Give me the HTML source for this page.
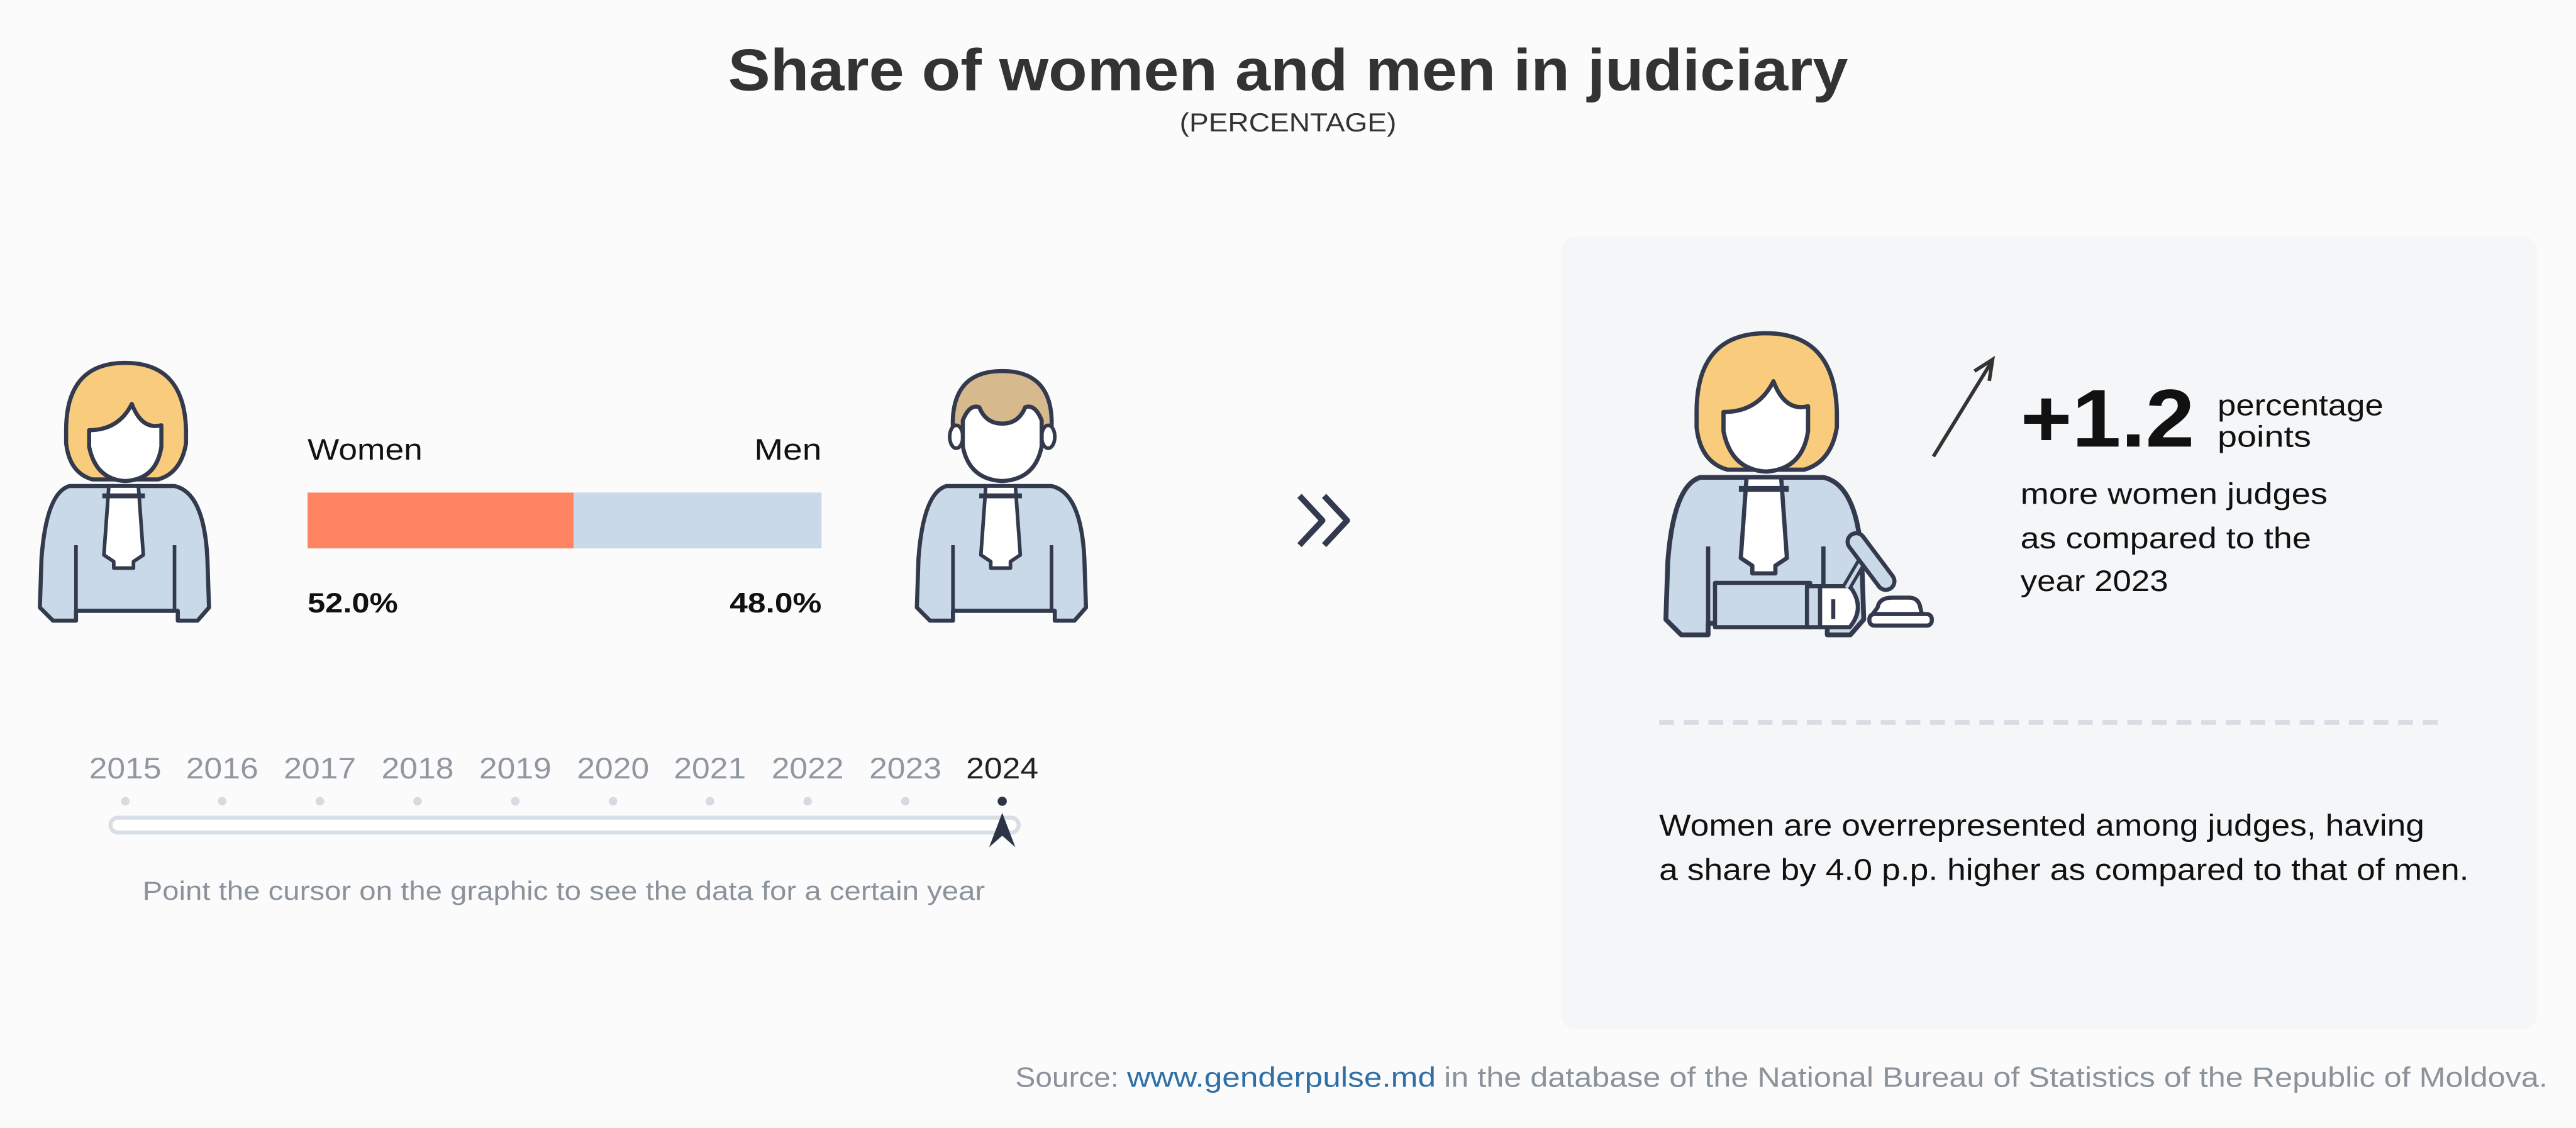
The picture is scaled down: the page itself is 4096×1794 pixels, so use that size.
<!DOCTYPE html>
<html><head><meta charset="utf-8"><style>
html,body{margin:0;padding:0;background:#fbfbfb;}
svg{display:block;}
text{font-family:"Liberation Sans",sans-serif;}
</style></head><body>
<svg width="4096" height="1794" viewBox="0 0 1568 687" xmlns="http://www.w3.org/2000/svg">
<rect width="1568" height="687" fill="#fbfbfb"/>
<text x="784" y="55" text-anchor="middle" font-size="36" font-weight="bold" fill="#333" textLength="682" lengthAdjust="spacingAndGlyphs">Share of women and men in judiciary</text>
<text x="784" y="80" text-anchor="middle" font-size="16" fill="#333" textLength="132" lengthAdjust="spacingAndGlyphs">(PERCENTAGE)</text>

<rect x="950" y="144" width="595" height="483" rx="10" fill="#f4f6f8"/>

<defs>
<g id="robe">
<path d="M42 296 L106 296 Q124 300 126 340 L127 370 L120 378 L108 378 L108 372 L46 372 L46 378 L32 378 L24 370 L25 340 Q28 300 42 296 Z" fill="#c9d9e7" stroke="#333a4d" stroke-width="2.5" stroke-linejoin="round"/>
<path d="M46 332 L46 372 M106 332 L106 372" stroke="#333a4d" stroke-width="2.2"/>
<path d="M66 296 L84 296 L87 338 L81 342 L81 346 L69 346 L69 342 L63 338 Z" fill="#fff" stroke="#333a4d" stroke-width="2.2" stroke-linejoin="round"/>
<path d="M62 302 L88 302" stroke="#333a4d" stroke-width="3"/>
</g>
</defs>

<!-- left woman -->
<g>
<path d="M40 262 Q40 221 76 221 Q112 221 113 262 L113 270 Q110 288 96 292 L56 292 Q42 288 40 270 Z" fill="#f9cb7d" stroke="#333a4d" stroke-width="2.5"/>
<path d="M54 262 L54 272 Q58 292 76 293 Q95 292 98 272 L98 259 Q86 262 80 246 Q72 262 54 262 Z" fill="#fff" stroke="#333a4d" stroke-width="2.5" stroke-linejoin="round"/>
<use href="#robe"/>
</g>

<!-- man -->
<g transform="translate(534,0)">
<path d="M46 262 Q44 226 76 226 Q108 226 106 262 L104 270 L48 270 Z" fill="#d6b98c" stroke="#333a4d" stroke-width="2.5"/>
<ellipse cx="48" cy="266" rx="4" ry="7" fill="#fff" stroke="#333a4d" stroke-width="2.2"/>
<ellipse cx="104" cy="266" rx="4" ry="7" fill="#fff" stroke="#333a4d" stroke-width="2.2"/>
<path d="M52 256 L52 272 Q56 292 76 293 Q96 292 100 272 L100 256 Q96 246 90 248 Q86 258 76 258 Q66 258 62 248 Q56 246 52 256 Z" fill="#fff" stroke="#333a4d" stroke-width="2.5" stroke-linejoin="round"/>
<use href="#robe"/>
</g>

<!-- bar -->
<text x="187" y="280" font-size="18" fill="#111" textLength="70" lengthAdjust="spacingAndGlyphs">Women</text>
<text x="500" y="280" font-size="18" fill="#111" text-anchor="end" textLength="41" lengthAdjust="spacingAndGlyphs">Men</text>
<rect x="187" y="300" width="162" height="34" fill="#ff8562"/>
<rect x="349" y="300" width="151" height="34" fill="#c9d9e7"/>
<text x="187" y="373" font-size="17" font-weight="bold" fill="#111" textLength="55" lengthAdjust="spacingAndGlyphs">52.0%</text>
<text x="500" y="373" font-size="17" font-weight="bold" fill="#111" text-anchor="end" textLength="56" lengthAdjust="spacingAndGlyphs">48.0%</text>

<path d="M791 302 L805 317 L791 332 M806 302 L820 317 L806 332" fill="none" stroke="#333a4d" stroke-width="3.6" stroke-linejoin="round"/>

<!-- timeline -->
<g font-size="18" fill="#9097a0" text-anchor="middle">
<text x="76" y="474" textLength="44" lengthAdjust="spacingAndGlyphs">2015</text>
<text x="135" y="474" textLength="44" lengthAdjust="spacingAndGlyphs">2016</text>
<text x="194.5" y="474" textLength="44" lengthAdjust="spacingAndGlyphs">2017</text>
<text x="254" y="474" textLength="44" lengthAdjust="spacingAndGlyphs">2018</text>
<text x="313.5" y="474" textLength="44" lengthAdjust="spacingAndGlyphs">2019</text>
<text x="373" y="474" textLength="44" lengthAdjust="spacingAndGlyphs">2020</text>
<text x="432" y="474" textLength="44" lengthAdjust="spacingAndGlyphs">2021</text>
<text x="491.5" y="474" textLength="44" lengthAdjust="spacingAndGlyphs">2022</text>
<text x="551" y="474" textLength="44" lengthAdjust="spacingAndGlyphs">2023</text>
<text x="610" y="474" fill="#222" textLength="44" lengthAdjust="spacingAndGlyphs">2024</text>
</g>
<g fill="#d5dbe3">
<circle cx="76" cy="488" r="2.6"/><circle cx="135" cy="488" r="2.6"/><circle cx="194.5" cy="488" r="2.6"/><circle cx="254" cy="488" r="2.6"/><circle cx="313.5" cy="488" r="2.6"/><circle cx="373" cy="488" r="2.6"/><circle cx="432" cy="488" r="2.6"/><circle cx="491.5" cy="488" r="2.6"/><circle cx="551" cy="488" r="2.6"/>
</g>
<circle cx="610" cy="488" r="2.8" fill="#2e3448"/>
<rect x="67" y="498" width="553" height="9" rx="4.5" fill="#fff" stroke="#d8dee6" stroke-width="2.5"/>
<path d="M610 495 L618 516 L610 509 L602 516 Z" fill="#2e3448"/>
<text x="343" y="548" text-anchor="middle" font-size="16" fill="#8a929b" textLength="513" lengthAdjust="spacingAndGlyphs">Point the cursor on the graphic to see the data for a certain year</text>

<!-- right panel judge -->
<g transform="translate(986,-55.6) scale(1.17)">
<path d="M40 262 Q40 221 76 221 Q112 221 113 262 L113 270 Q110 288 96 292 L56 292 Q42 288 40 270 Z" fill="#f9cb7d" stroke="#333a4d" stroke-width="2.2"/>
<path d="M54 262 L54 272 Q58 292 76 293 Q95 292 98 272 L98 259 Q86 262 80 246 Q72 262 54 262 Z" fill="#fff" stroke="#333a4d" stroke-width="2.2" stroke-linejoin="round"/>
<use href="#robe"/>
</g>
<g stroke="#333a4d" stroke-width="2.5" stroke-linejoin="round">
<rect x="1044" y="355" width="58" height="27" fill="#c9d9e7"/>
<rect x="1100" y="357" width="8" height="25" fill="#c9d9e7"/>
<path d="M1108 357 L1126 357 Q1136 370 1126 382 L1108 382 Z" fill="#fff"/>
<path d="M1116 365 L1116 377" />
<path d="M1124 358 L1138 334" fill="none" stroke-width="6"/>
<path d="M1124 358 L1138 334" fill="none" stroke="#c9d9e7" stroke-width="2"/>
<path d="M1130 330 L1148 354" stroke-width="13" stroke-linecap="round"/>
<path d="M1130 330 L1148 354" stroke="#c9d9e7" stroke-width="8" stroke-linecap="round"/>
<path d="M1143 370 Q1144 364 1152 364 L1162 364 Q1168 364 1169 370 L1170 374 L1140 374 Z" fill="#fff"/>
<rect x="1138" y="374" width="38" height="7" rx="3" fill="#fff"/>
</g>
<path d="M1177 278 L1212 221" stroke="#333" stroke-width="2.2"/>
<path d="M1202 226 L1213 219 L1211 232" fill="none" stroke="#333" stroke-width="2.2"/>
<text x="1230" y="272" font-size="50" font-weight="bold" fill="#111" textLength="106" lengthAdjust="spacingAndGlyphs">+1.2</text>
<text x="1350" y="253" font-size="18" fill="#111" textLength="101" lengthAdjust="spacingAndGlyphs">percentage</text>
<text x="1350" y="272" font-size="18" fill="#111" textLength="57" lengthAdjust="spacingAndGlyphs">points</text>
<text x="1230" y="307" font-size="18" fill="#111" textLength="187" lengthAdjust="spacingAndGlyphs">more women judges</text>
<text x="1230" y="334" font-size="18" fill="#111" textLength="177" lengthAdjust="spacingAndGlyphs">as compared to the</text>
<text x="1230" y="360" font-size="18" fill="#111" textLength="90" lengthAdjust="spacingAndGlyphs">year 2023</text>
<path d="M1010 440 L1487 440" stroke="#d8dde4" stroke-width="3" stroke-dasharray="9,6"/>
<text x="1010" y="509" font-size="18.5" fill="#111" textLength="466" lengthAdjust="spacingAndGlyphs">Women are overrepresented among judges, having</text>
<text x="1010" y="536" font-size="18.5" fill="#111" textLength="493" lengthAdjust="spacingAndGlyphs">a share by 4.0 p.p. higher as compared to that of men.</text>

<text x="618" y="662" font-size="17" fill="#8a929b" textLength="63" lengthAdjust="spacingAndGlyphs">Source:</text>
<text x="686" y="662" font-size="17" fill="#2f6fa8" textLength="188" lengthAdjust="spacingAndGlyphs">www.genderpulse.md</text>
<text x="879" y="662" font-size="17" fill="#8a929b" textLength="672" lengthAdjust="spacingAndGlyphs">in the database of the National Bureau of Statistics of the Republic of Moldova.</text>
</svg>
</body></html>
